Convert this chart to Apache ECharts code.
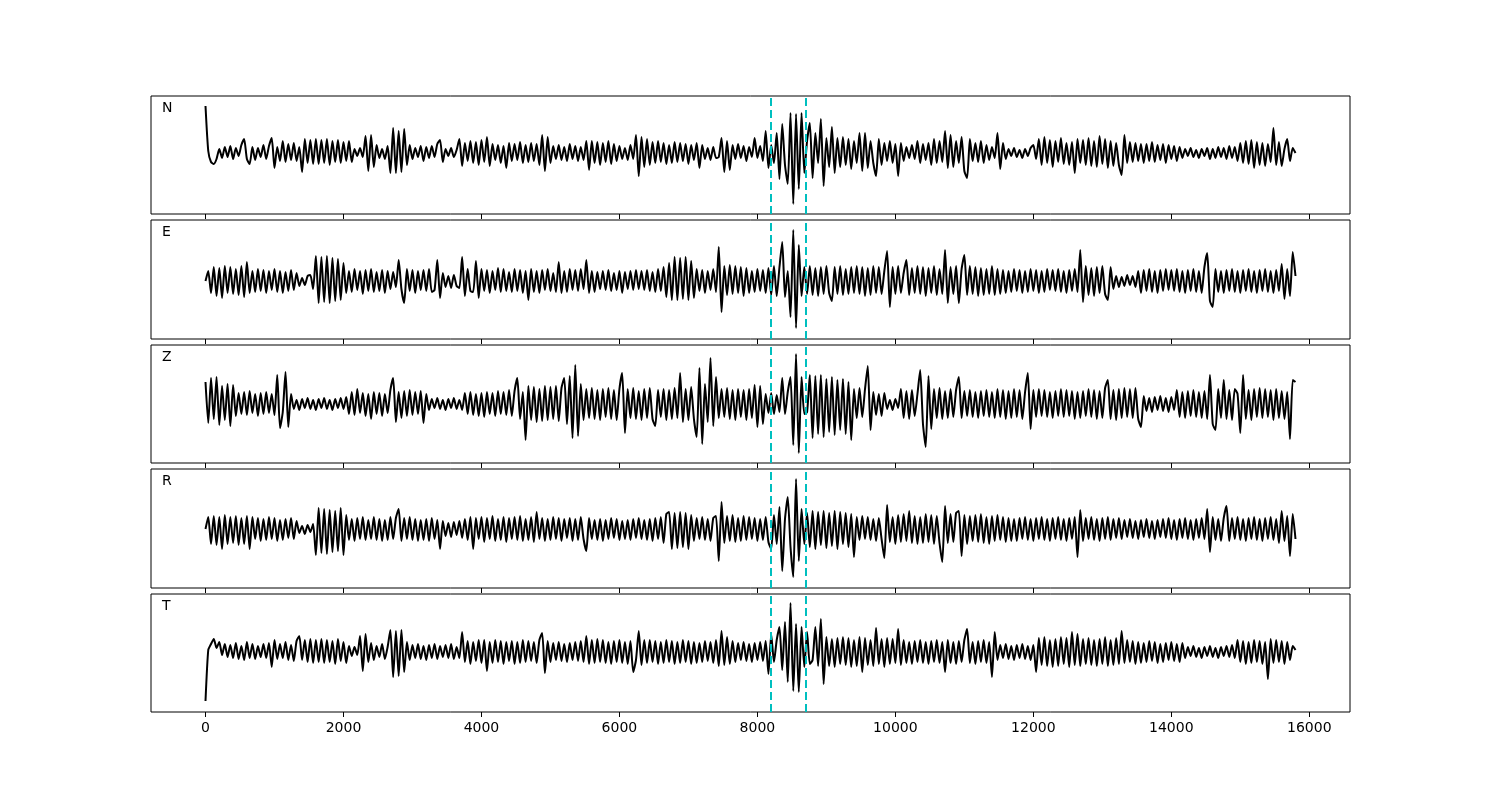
<!DOCTYPE html>
<html>
<head>
<meta charset="utf-8">
<script src="https://cdn.jsdelivr.net/npm/echarts@6/dist/echarts.min.js"></script>
<style>html,body{margin:0;padding:0;background:#fff}#c{width:1500px;height:800px}</style>
</head>
<body>
<div id="c"></div>
<script>
// ---------------- data ----------------
const SAMPLE_STEP = 40; // time units between samples
const componentNames = ['N', 'E', 'Z', 'R', 'T'];
const xTickValues = [0, 2000, 4000, 6000, 8000, 10000, 12000, 14000, 16000];
const xLimits = [-790, 16590];
const pickWindow = [8200, 8700];
const yRangeN = [-61, 57];
const yRangeE = [-58, 61];
const yRangeZ = [-59, 59];
const yRangeR = [-59, 60];
const yRangeT = [-60, 58];

const traceN = [
47,2,-9,-11,-6,4,-5,6,-4,7,-6,5,-3,8,14,-6,-11,6,-7,5,
-4,8,-6,7,15,-15,6,-8,12,-9,9,-7,10,-8,6,-19,14,-10,13,-11,
14,-11,13,-10,14,-12,12,-9,13,-10,11,-8,12,-9,4,-3,5,-4,17,-18,
18,-14,8,-5,4,-6,7,-20,25,-20,22,-19,24,-12,8,-6,5,-4,7,-8,
6,-5,7,-4,9,13,-9,4,-3,5,-4,3,14,-13,10,-8,12,-10,11,-12,
13,-9,16,-13,9,-7,8,-10,7,-15,10,-8,9,-7,11,-10,8,-9,10,-8,
9,-12,18,-18,16,-10,7,-6,8,-7,6,-8,9,-6,7,-8,6,-7,12,-17,
12,-10,11,-12,10,-9,12,-11,9,-8,7,-6,5,-7,8,-6,18,-23,16,-14,
14,-12,11,-10,12,-9,10,-11,8,-10,11,-9,10,-8,9,-11,8,-7,10,-15,
8,-6,5,-7,6,-5,-4,15,-19,12,-17,8,-6,9,-5,7,-8,6,-4,15,
-5,7,-8,22,-15,8,-10,20,-26,29,-12,-31,40,-51,39,-36,40,-20,12,30,
-25,20,-10,34,-33,15,-14,26,-20,15,-14,16,-12,14,-16,12,-10,20,-18,20,
-15,12,-10,-23,14,-12,10,-8,12,-10,9,-23,10,-8,6,-5,8,-6,12,-10,
9,-7,10,-12,14,-10,12,-9,22,-15,18,-14,12,-10,16,-18,-25,14,-8,10,
-9,12,-10,8,-7,6,-5,20,-16,10,-6,4,-3,5,-4,3,-5,4,-3,5,
8,-6,14,-12,16,-10,13,-14,12,-9,15,-11,10,-12,11,-20,14,-10,13,-12,
15,-13,12,-14,17,-11,14,-15,12,-13,10,-12,-22,18,-10,11,-9,10,-8,9,
-10,9,-8,11,-9,8,-7,9,-10,8,-6,7,-8,6,-5,4,-3,5,-4,3,
-5,4,-3,5,-6,4,-5,6,-4,5,-6,7,-5,6,-8,10,-10,12,-11,13,
-15,11,-12,10,-13,9,-9,25,-12,11,-13,4,14,-8,5,0
];

const traceE = [
0,10,-12,14,-15,13,-17,15,-12,14,-13,12,-14,15,-16,19,-12,10,-11,12,
-10,11,-12,10,-9,12,-11,10,-12,9,-10,11,-9,8,-5,3,-4,5,6,-8,
25,-22,24,-21,25,-22,23,-20,22,-19,18,-12,10,-11,12,-9,10,-13,11,-10,
12,-11,9,-10,11,-12,10,-8,9,-6,21,-8,-22,12,-10,11,-12,10,-9,11,
-10,12,-11,-9,21,-17,8,-6,5,-7,6,-5,-7,24,-15,12,-10,-11,20,-17,
12,-10,11,-12,10,-9,13,-11,12,-10,9,-11,12,-10,11,-12,10,-19,12,-11,
10,-12,11,-9,12,-10,8,-11,19,-12,10,-11,12,-9,11,-10,12,-8,21,-12,
10,-11,9,-8,10,-9,11,-10,8,-9,10,-12,9,-8,10,-9,11,-8,10,-9,
11,-10,9,-11,12,-10,14,-16,18,-19,24,-19,23,-18,24,-19,20,-17,12,-10,
11,-12,10,-9,12,-11,34,-31,15,-14,16,-13,15,-12,14,-15,13,-12,10,-11,
12,-10,11,-12,13,-14,15,-15,14,39,-16,10,-36,51,-47,36,-15,14,-13,15,
-14,13,-15,14,-13,15,-12,-20,14,-13,15,-14,12,-13,14,-12,15,-13,14,-15,
13,-14,15,-12,14,-13,10,30,-26,14,-13,15,-12,8,21,-14,13,-12,15,-13,
14,-15,13,-12,15,-14,12,-13,31,-22,14,-13,15,-22,12,26,-14,15,-13,14,
-15,13,-14,12,-13,15,-14,12,-13,11,-12,10,-11,12,-10,11,-12,10,-11,12,
-10,11,-12,10,-11,12,-9,11,-10,12,-11,10,-12,11,-10,12,-11,31,-21,15,
-14,13,-15,14,-12,15,-13,-19,14,-8,5,-6,4,-5,6,-4,5,-6,10,-12,
11,-10,12,-11,10,-12,11,-10,12,-9,11,-10,12,-11,10,-12,11,-10,12,-11,
10,-12,14,28,-20,-26,12,-11,10,-12,11,-10,12,-11,10,-12,11,-10,12,-11,
10,-12,11,-10,12,-11,10,-12,11,-10,17,-18,12,-15,29,5
];

const traceZ = [
22,-19,26,-15,27,-21,18,-16,20,-22,19,-12,11,-10,12,-11,13,-9,10,-12,
11,-10,12,-9,10,-11,29,-24,-8,32,-23,10,-5,4,-6,5,-4,6,-5,4,
-6,5,-4,6,-5,4,-6,5,-4,6,-5,7,-10,12,-11,15,-9,11,-12,10,
-15,12,-10,11,-12,10,-9,14,26,-18,12,-14,13,-12,14,-11,12,-10,13,-19,
10,-6,5,-4,6,-5,4,-6,5,-4,6,-5,4,-6,11,-10,12,-11,10,-12,
11,-13,12,-10,11,-12,13,-10,12,-11,14,-12,13,26,-15,12,-36,18,-16,17,
-18,15,-17,18,-16,17,-15,18,-17,16,26,-20,28,-34,39,-32,20,-16,15,-14,
16,-15,14,-16,15,-13,16,-15,14,-16,15,31,-29,15,-14,16,-15,13,-16,15,
-14,16,-15,-22,14,-13,15,-16,14,-15,16,-14,31,-18,15,-16,17,-15,-33,36,
-40,20,-18,46,-22,27,-14,15,-13,16,-15,14,-16,15,-13,14,-16,15,-14,19,
-23,18,-20,10,-9,11,-10,9,-8,26,-10,12,27,-41,50,-49,27,-10,-8,29,
-34,28,-30,29,-33,25,-28,27,-31,24,-26,25,-30,22,-36,15,-14,16,-13,15,
38,-26,12,-11,10,-12,11,-5,4,-6,5,-4,15,-14,13,-15,14,-12,10,34,
-20,-43,28,-25,15,-14,16,-15,13,-14,15,-13,14,27,-14,13,-12,14,-13,12,
-14,13,-12,14,-13,12,-14,15,-13,14,-15,13,-14,15,-13,14,-15,12,31,-25,
14,-13,15,-12,14,-13,12,-14,13,-12,15,-13,14,-12,13,-15,12,-14,13,-12,
15,-13,14,-15,13,-14,16,24,-15,14,-16,15,-14,16,-13,15,-14,16,-15,-23,
8,-7,6,-8,7,-6,8,-7,6,-8,7,-6,14,-13,12,-14,13,-12,14,-13,
12,-14,13,-15,29,-20,-26,15,-14,24,-15,14,-16,15,10,-29,29,-15,14,-16,
15,-13,16,-14,15,-13,14,-16,15,-14,13,-15,12,-35,24,22
];

const traceR = [
0,12,-15,13,-16,12,-20,14,-15,12,-14,13,-16,11,-15,13,-20,12,-10,11,
-12,10,-11,12,-10,11,-12,9,-11,10,-9,11,-10,8,-4,3,-5,4,-3,5,
-26,21,-24,20,-25,19,-23,18,-22,21,-26,14,-11,10,-12,11,-10,12,-11,9,
-10,12,-11,10,-12,9,-11,12,-10,11,20,-12,11,-10,12,-11,10,-12,9,-11,
10,-12,11,-10,9,-20,8,-7,6,-8,7,-6,8,-9,10,-11,12,-20,11,-10,
12,-13,11,-10,13,-12,10,-11,12,-13,11,-10,12,-11,13,-12,10,-11,12,-13,
17,-10,11,-12,10,-11,12,-10,11,-12,10,-9,11,-12,10,-11,12,-10,-22,11,
-10,9,-11,10,-12,9,-10,11,-9,10,-11,8,-10,9,-11,10,-9,11,-10,9,
-11,10,-12,11,-10,12,-14,15,17,-20,16,-19,17,-18,16,-20,14,-12,11,-10,
12,-11,10,-12,11,13,-32,27,-14,13,-12,14,-13,11,-12,13,-11,12,-10,11,
-12,10,-11,12,-13,-20,14,-15,22,-42,10,32,-18,-48,50,-32,20,-15,16,-18,
18,-20,17,-16,18,-19,16,-17,18,-20,17,-15,16,-18,15,-28,12,-11,13,-10,
12,-11,10,-12,11,-10,-29,24,-13,12,-15,14,-13,15,-12,18,-14,13,-15,12,
-14,15,-13,14,-15,13,-14,-33,23,-14,15,-13,16,18,-27,14,-15,13,-12,14,
-13,15,-14,12,-15,13,-12,14,-11,12,-13,11,-12,10,-12,11,-10,12,-11,10,
-12,11,-10,12,-11,10,-12,11,-10,12,-11,10,-12,11,-10,12,-28,19,-12,11,
-10,12,-11,10,-12,11,-10,12,-11,10,-9,11,-10,9,-8,10,-9,8,-10,9,
-8,10,-9,8,-10,9,-8,10,-9,11,-10,9,-11,10,-9,11,-10,9,-11,10,
-9,11,-10,20,-23,12,-11,10,-12,11,23,-12,11,-10,12,-11,10,-12,11,-10,
12,-11,10,-12,11,-10,12,-11,10,-14,18,-12,13,-27,15,-10
];

const traceT = [
-49,2,8,13,4,10,-3,8,-5,7,-6,9,-7,6,-8,10,-6,8,-7,6,
-5,8,-6,9,-15,12,-7,8,-6,10,-8,7,-9,11,16,-8,12,-10,13,-11,
12,-10,13,-11,12,-10,11,-12,13,-9,10,-11,6,-4,5,-3,16,-19,18,-10,
9,-8,6,-5,8,-7,5,22,-25,21,-24,22,-20,10,-8,7,-6,8,-7,6,
-8,7,-6,8,-7,6,-5,7,-6,8,-7,5,-6,20,-10,11,-12,10,-9,12,
-11,12,-19,10,-11,12,-10,11,-12,10,-9,11,-12,10,-11,12,-10,11,-9,10,
-11,12,19,-21,11,-10,9,-8,10,-9,8,-10,9,-8,10,-9,11,-10,16,-12,
12,-11,13,-10,12,-11,10,-12,11,-10,12,-11,10,-12,11,-20,-8,21,-13,12,
-11,12,-10,11,-12,10,-11,12,-10,11,-12,10,-11,12,-10,11,-12,10,-11,9,
-10,11,-9,10,-11,12,-14,21,-13,15,-12,11,-10,9,-8,10,-9,8,-10,9,
-8,10,-9,11,-22,18,-10,12,25,-18,30,-30,49,-39,28,-40,25,-15,20,-12,
-8,25,-14,33,-32,15,-14,13,-15,14,-12,15,-13,14,-15,12,-14,15,-20,14,
-13,12,-14,24,-12,13,-15,14,-12,13,-11,23,-13,12,-11,10,-12,11,-10,12,
-11,10,-12,11,-10,12,-11,10,-20,12,-11,10,-12,11,-10,12,23,-11,10,-12,
11,-10,12,-11,10,-25,20,-8,7,-6,8,-7,6,-8,7,-6,8,-7,6,-8,
7,-20,14,-13,15,-14,12,-15,13,-14,15,-12,14,-15,20,-13,18,-14,13,-12,
14,-13,12,-14,13,-12,15,-14,12,-13,14,-12,21,-11,12,-10,11,-12,10,-11,
9,-10,11,-9,10,-11,8,-10,9,-8,10,-9,8,-10,9,-6,5,-4,6,-5,
4,-6,5,-4,6,-5,4,-6,5,-4,6,-5,7,-6,12,-10,11,-12,10,-11,
12,-10,11,-12,10,-27,13,-11,12,-10,11,-12,10,-8,6,2
];

// ---------------- chart ----------------
const traces = [traceN, traceE, traceZ, traceR, traceT];
const yRanges = [yRangeN, yRangeE, yRangeZ, yRangeR, yRangeT];
const panelTops = [96, 220, 345, 469, 594];
const panelHeights = [118, 119, 118, 119, 118];
const FONT = 'DejaVu Sans';

const chart = echarts.init(document.getElementById('c'), null, {renderer: 'canvas'});

const grids = [], xAxes = [], yAxes = [], series = [], graphics = [];
traces.forEach((tr, k) => {
  grids.push({
    left: 151, width: 1199, top: panelTops[k], height: panelHeights[k],
    show: true, borderColor: '#000', borderWidth: 1, backgroundColor: 'transparent'
  });
  xAxes.push({
    gridIndex: k, type: 'value', min: xLimits[0], max: xLimits[1], position: 'bottom',
    axisLine: {show: false, onZero: false},
    axisTick: {show: true, customValues: xTickValues, length: 5, lineStyle: {color: '#000', width: 1}},
    axisLabel: {
      show: k === traces.length - 1, customValues: xTickValues,
      fontSize: 14, color: '#000', fontFamily: FONT, margin: 9,
      formatter: v => String(v)
    },
    splitLine: {show: false}
  });
  yAxes.push({gridIndex: k, type: 'value', min: yRanges[k][0], max: yRanges[k][1], show: false});
  series.push({
    type: 'line', xAxisIndex: k, yAxisIndex: k,
    data: tr.map((v, i) => [i * SAMPLE_STEP, v]),
    showSymbol: false, symbol: 'none', smooth: 0.2,
    lineStyle: {color: '#000', width: 2},
    z: 2,
    markLine: {
      silent: true, symbol: ['none', 'none'], animation: false,
      label: {show: false},
      lineStyle: {color: '#00bfbf', type: [8, 4], width: 2},
      data: pickWindow.map(v => ({xAxis: v}))
    }
  });
  graphics.push({
    type: 'text', left: 162, top: panelTops[k] + 5,
    style: {text: componentNames[k], fill: '#000', font: '14px "DejaVu Sans"'}
  });
});

chart.setOption({
  animation: false,
  backgroundColor: '#fff',
  grid: grids, xAxis: xAxes, yAxis: yAxes, series: series, graphic: graphics
});
</script>
</body>
</html>
